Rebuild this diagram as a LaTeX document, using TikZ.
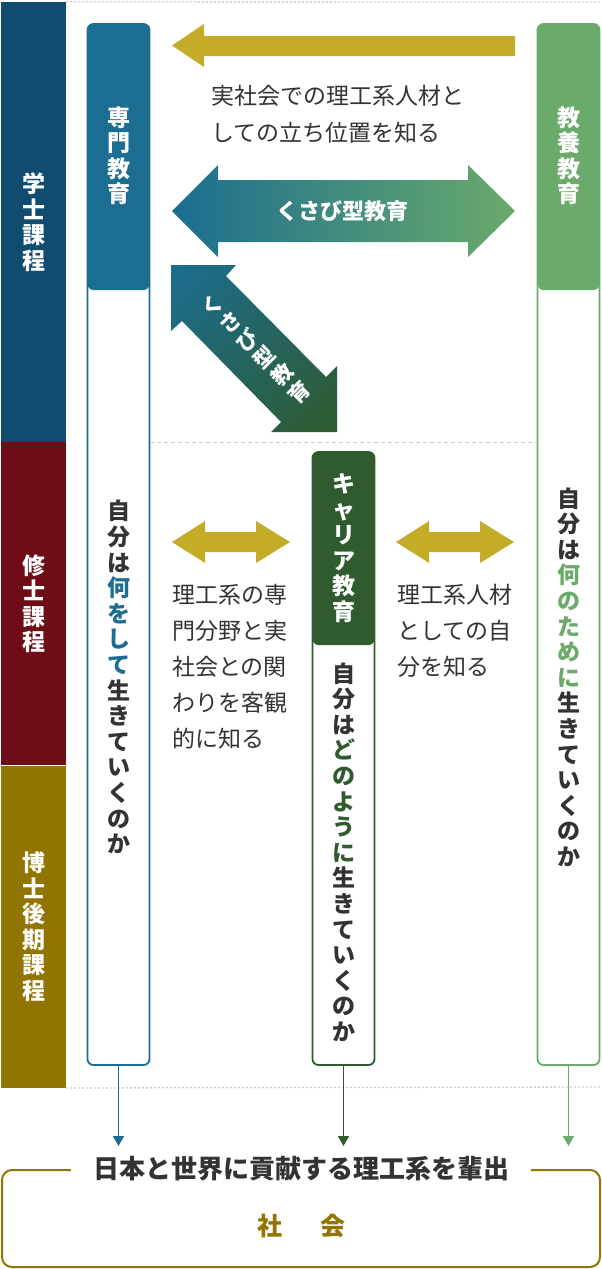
\documentclass[tikz,border=0pt]{standalone}
\usepackage{fontspec}
\setmainfont{Noto Sans CJK JP}
\usepackage{tikz}
\usetikzlibrary{positioning}
\usetikzlibrary{arrows.meta}
\usetikzlibrary{shadings}

\definecolor{gakushiBlue}{HTML}{0F4C70}
\definecolor{shushiRed}{HTML}{6E0C17}
\definecolor{hakaseGold}{HTML}{927400}
\definecolor{senmonBlue}{HTML}{1B6D91}
\definecolor{kyoyoGreen}{HTML}{6AAA6A}
\definecolor{careerGreen}{HTML}{2F5B2E}
\definecolor{arrowGold}{HTML}{C5AC28}
\definecolor{txtGray}{HTML}{333333}
\definecolor{lineGray}{HTML}{CCCCCC}

\begin{document}
\begin{tikzpicture}[
  x=1pt, y=-1pt,
  band/.style={rectangle, inner sep=0pt, minimum width=65pt, text=white, align=center,
    font=\bfseries\fontsize{23}{25.5}\selectfont},
  headTxt/.style={inner sep=0pt, text=white, align=center, font=\bfseries\fontsize{23}{25.5}\selectfont},
  lifeTxt/.style={inner sep=0pt, text=txtGray, align=center, font=\bfseries\fontsize{23}{25.6}\selectfont},
  descTxt/.style={anchor=base west, inner sep=0pt, text=txtGray, font=\fontsize{23}{36}\selectfont},
  arrowTxt/.style={inner sep=0pt, text=white, align=center, font=\bfseries\fontsize{22}{24.5}\selectfont},
  gridLine/.style={draw=lineGray, line width=1.3pt, dash pattern=on 2pt off 2pt},
  flowArrow/.style={line width=1.6pt, -{Triangle[width=11pt,length=10pt]}, shorten >=23pt},
]

\tikzset{
  eduCol/.style n args={3}{
    draw=#1, line width=1.8pt, rounded corners=6pt,
    rectangle, inner sep=0pt,
    minimum width=62pt, minimum height=#2,
    path picture={
      \fill[#1] (path picture bounding box.north west)
        rectangle ([yshift=-#3]path picture bounding box.north east);
    }
  }
}

\useasboundingbox (0,0) rectangle (602,1269);

% --- course bands ---
\node[band, fill=gakushiBlue, minimum height=440pt] (gakushi) at (33.5,222) {学\\士\\課\\程};
\node[band, fill=shushiRed, minimum height=323pt, below=0pt of gakushi] (shushi) {修\\士\\課\\程};
\node[band, fill=hakaseGold, minimum height=322pt, below=0pt of shushi] (hakase) {博\\士\\後\\期\\課\\程};

% --- education columns ---
\node[eduCol={senmonBlue}{1041pt}{266pt}] (senmon) at (118.5,544.5) {};
\node[eduCol={kyoyoGreen}{1041pt}{266pt}] (kyoyo) at (568.5,544.5) {};
\node[eduCol={careerGreen}{613pt}{193pt}] (career) at (343.5,758.5) {};

\draw[gridLine] (gakushi.north east) -- (602,2);
\draw[gridLine] (hakase.south east) -- (602,1087);
\draw[gridLine, dash pattern=on 4pt off 3pt] (senmon.east |- shushi.north) -- (kyoyo.west |- shushi.north);

\node[headTxt] (senmonHead) at (118.5,156) {専\\門\\教\\育};
\node[headTxt] (kyoyoHead) at (568.5,156) {教\\養\\教\\育};
\node[headTxt] (careerHead) at (343.5,548) {キ\\ャ\\リ\\ア\\教\\育};

\node[lifeTxt] (senmonLife) at (118.5,677) {自\\分\\は\\\textcolor{senmonBlue}{何}\\\textcolor{senmonBlue}{を}\\\textcolor{senmonBlue}{し}\\\textcolor{senmonBlue}{て}\\生\\き\\て\\い\\く\\の\\か};
\node[lifeTxt] (kyoyoLife) at (568.5,677) {自\\分\\は\\\textcolor{kyoyoGreen}{何}\\\textcolor{kyoyoGreen}{の}\\\textcolor{kyoyoGreen}{た}\\\textcolor{kyoyoGreen}{め}\\\textcolor{kyoyoGreen}{に}\\生\\き\\て\\い\\く\\の\\か};
\node[lifeTxt] (careerLife) at (343.5,852) {自\\分\\は\\\textcolor{careerGreen}{ど}\\\textcolor{careerGreen}{の}\\\textcolor{careerGreen}{よ}\\\textcolor{careerGreen}{う}\\\textcolor{careerGreen}{に}\\生\\き\\て\\い\\く\\の\\か};

% --- block arrows ---
\fill[arrowGold] (172,45.5) -- (204,24) -- (204,36) -- (515,36) -- (515,56) -- (204,56) -- (204,67) -- cycle;

\shade[left color=senmonBlue, right color=kyoyoGreen]
  (172,211) -- (218,165) -- (218,180) -- (468,180) -- (468,165) -- (515,211)
  -- (468,257) -- (468,242) -- (218,242) -- (218,257) -- cycle;
\node[arrowTxt] (wedgeH) at (342,211) {くさび型教育};

\shade[upper left=senmonBlue, lower right=careerGreen,
       upper right=senmonBlue!50!careerGreen, lower left=senmonBlue!50!careerGreen]
  (171,265) -- (236,265) -- (226,276) -- (326,377) -- (337,366) -- (337,432)
  -- (271,432) -- (281,422) -- (182,321) -- (171,331) -- cycle;
\node[arrowTxt, font=\bfseries\fontsize{21}{24.5}\selectfont, rotate=45] (wedgeD) at (256,349) {く\\さ\\び\\型\\教\\育};

\foreach \dx in {0,224} {
  \fill[arrowGold, xshift=\dx] (172,542) -- (205,521) -- (205,532) -- (256,532) -- (256,521) -- (290,542)
    -- (256,563) -- (256,552) -- (205,552) -- (205,563) -- cycle;
}

% --- descriptions ---
\foreach \txt [count=\i] in {実社会での理工系人材と, しての立ち位置を知る}
  \node[descTxt] (descTop-\i) at (211,{104.5+36.5*(\i-1)}) {\txt};
\foreach \txt [count=\i] in {理工系の専, 門分野と実, 社会との関, わりを客観, 的に知る}
  \node[descTxt] (descLeft-\i) at (172,{603+36*(\i-1)}) {\txt};
\foreach \txt [count=\i] in {理工系人材, としての自, 分を知る}
  \node[descTxt] (descRight-\i) at (397,{603+36*(\i-1)}) {\txt};

% --- society ---
\node[draw=hakaseGold, line width=2pt, rounded corners=10pt, inner sep=0pt,
      minimum width=598pt, minimum height=97pt] (society) at (301,1218.5) {};
\node[fill=white, inner xsep=22pt, inner ysep=2pt, text=txtGray,
      font=\bfseries\fontsize{26}{30}\selectfont] (output) at (society.north) {日本と世界に貢献する理工系を輩出};
\node[text=hakaseGold, inner sep=0pt, font=\bfseries\fontsize{25}{30}\selectfont] (societyTxt) at (301,1226) {社\hspace{38pt}会};

\foreach \col/\clr in {senmon/senmonBlue, career/careerGreen, kyoyo/kyoyoGreen} {
  \draw[flowArrow, color=\clr] (\col.south) -- (\col.south |- society.north);
}

\end{tikzpicture}
\end{document}
